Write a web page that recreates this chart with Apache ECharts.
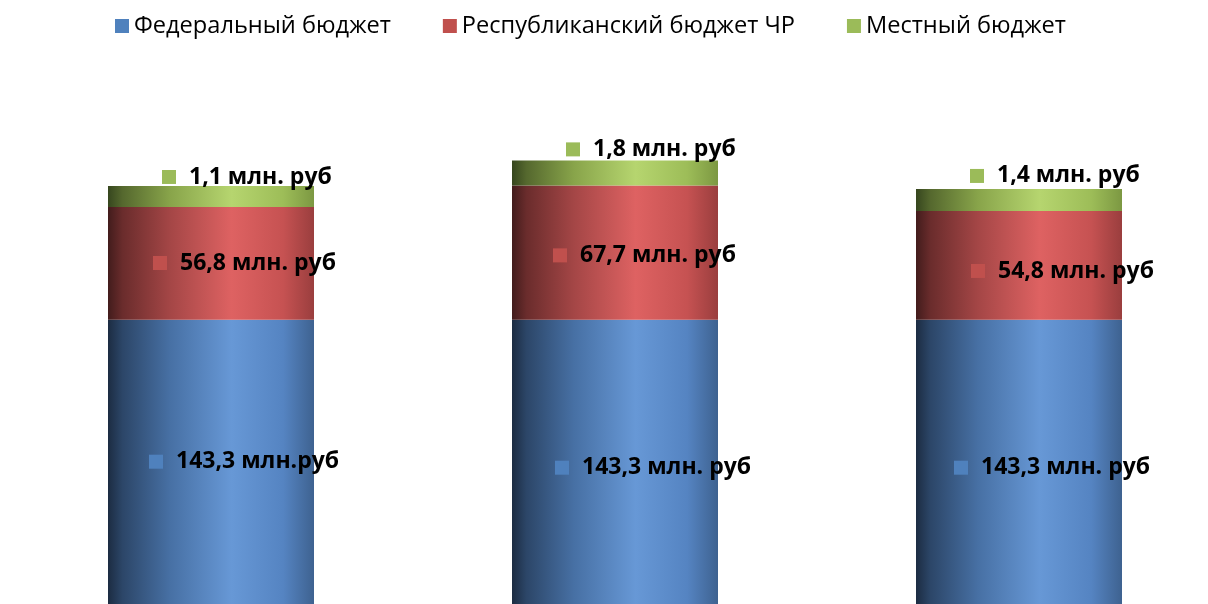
<!DOCTYPE html>
<html lang="ru">
<head>
    <meta charset="UTF-8">
    <title>Бюджет</title>
    <script src="https://cdn.jsdelivr.net/npm/echarts@6/dist/echarts.min.js"></script>
    <style>
        html, body { margin: 0; padding: 0; background: #fff; }
    </style>
</head>
<body>
    <div id="main" style="width: 1208px; height: 604px;"></div>
    <script>
        // данные
        var categories = ['1', '2', '3'];
        var seriesNames = ['Федеральный бюджет', 'Республиканский бюджет ЧР', 'Местный бюджет'];
        var federal = [143.3, 143.3, 143.3];
        var republic = [56.8, 67.7, 54.8];
        // высота зелёного сегмента так, как он нарисован на картинке
        var local = [10.6, 12.6, 11.1];
        var federalLabels = ['143,3 млн.руб', '143,3 млн. руб', '143,3 млн. руб'];
        var republicLabels = ['56,8 млн. руб', '67,7 млн. руб', '54,8 млн. руб'];
        var localLabels = ['1,1 млн. руб', '1,8 млн. руб', '1,4 млн. руб'];

        // смещения подписей от левого верхнего угла сегмента
        var federalPos = [[41, 142], [43, 148], [38, 148]];
        var republicPos = [[45, 56], [41, 70], [55, 60]];
        var localPos = [[54, -9], [54, -11], [54, -13]];

        var keyColors = ['#4f81bd', '#c0504d', '#9bbb59'];
        var fontName = '"Open Sans", "Noto Sans", sans-serif';

        function grad(stops) {
            return new echarts.graphic.LinearGradient(0, 0, 1, 0, stops.map(function (s) {
                return {offset: s[0], color: s[1]};
            }));
        }
        var fills = [
            grad([[0, '#1c2c42'], [0.07, '#2c4668'], [0.3, '#4770a4'], [0.6, '#6798d6'], [0.85, '#5584c2'], [1, '#3e6290']]),
            grad([[0, '#421c1c'], [0.07, '#6a2c2c'], [0.3, '#a44646'], [0.6, '#de6262'], [0.85, '#c65252'], [1, '#9a3e3e']]),
            grad([[0, '#36461e'], [0.07, '#55682e'], [0.3, '#88a44a'], [0.6, '#b6d56f'], [0.85, '#9dbd58'], [1, '#7c9842']])
        ];

        function makeData(values, labels, pos, color) {
            return values.map(function (v, i) {
                return {
                    value: v,
                    label: {
                        show: true,
                        position: pos[i],
                        align: 'left',
                        verticalAlign: 'middle',
                        formatter: '{s| }{g| }{t|' + labels[i] + '}',
                        rich: {
                            s: {width: 14, height: 14, backgroundColor: color},
                            g: {width: 13},
                            t: {fontSize: 23, fontWeight: 'bold', color: '#000', fontFamily: fontName}
                        }
                    }
                };
            });
        }

        var chart = echarts.init(document.getElementById('main'));
        var option = {
            animation: false,
            legend: {
                top: 9,
                left: 110,
                itemWidth: 14,
                itemHeight: 14,
                itemGap: 52,
                icon: 'rect',
                textStyle: {fontSize: 23.6, color: '#000', fontFamily: fontName},
                data: seriesNames.map(function (n, i) {
                    return {name: n, itemStyle: {color: keyColors[i]}};
                })
            },
            grid: {left: 9, right: -13, top: 108, bottom: 0, outerBoundsMode: 'none'},
            xAxis: {
                type: 'category',
                data: categories,
                show: false
            },
            yAxis: {
                type: 'value',
                min: 0,
                max: 250,
                show: false
            },
            series: [
                {
                    name: seriesNames[0], type: 'bar', stack: 'total', barWidth: 206,
                    itemStyle: {color: fills[0]},
                    data: makeData(federal, federalLabels, federalPos, keyColors[0])
                },
                {
                    name: seriesNames[1], type: 'bar', stack: 'total', barWidth: 206,
                    itemStyle: {color: fills[1]},
                    data: makeData(republic, republicLabels, republicPos, keyColors[1])
                },
                {
                    name: seriesNames[2], type: 'bar', stack: 'total', barWidth: 206,
                    itemStyle: {color: fills[2]},
                    data: makeData(local, localLabels, localPos, keyColors[2])
                }
            ]
        };
        chart.setOption(option);
    </script>
</body>
</html>
